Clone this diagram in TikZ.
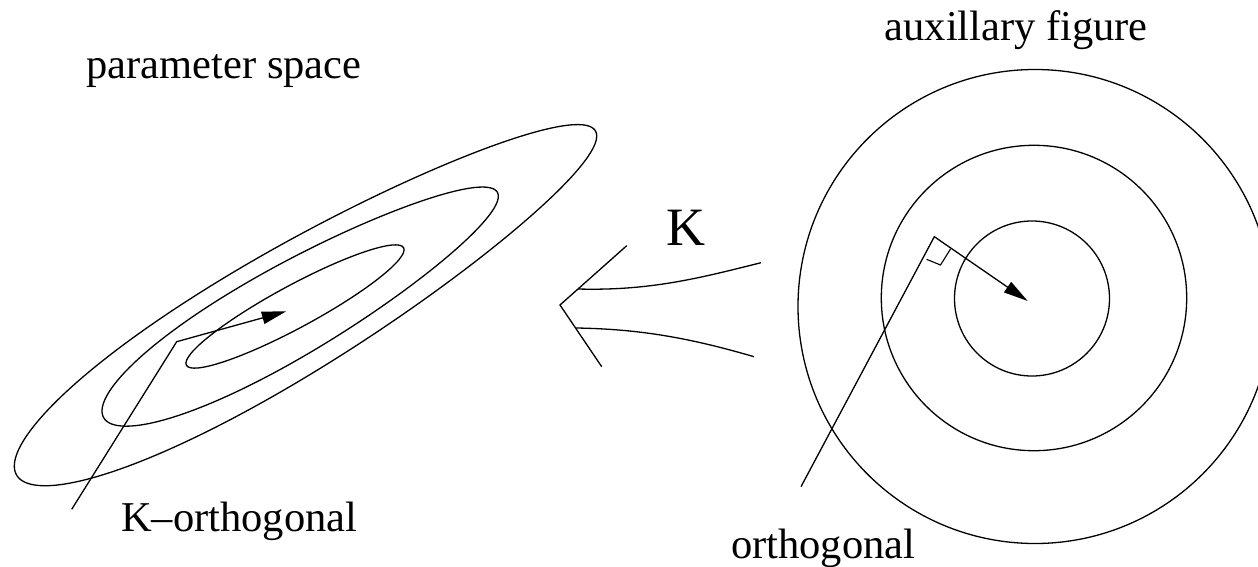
\documentclass[tikz,border=0pt]{standalone}
\usepackage{fontspec}
\setmainfont{Liberation Serif}
\usetikzlibrary{arrows.meta}
\begin{document}
\begin{tikzpicture}[x=1pt,y=-1pt,line width=1.3pt,line join=miter,
  lbl/.style={inner sep=0pt,font=\fontsize{42.5}{42.5}\selectfont},
  arr/.style={-{Triangle[length=24.5pt,width=12.5pt]}}]
\useasboundingbox (0,0) rectangle (1258,567);
% parameter space contours (slightly egg-shaped, wider at the lower left)
\draw plot[domain=0:360,samples=241,variable=\t]
  ({306+336.7*cos(\t)*0.8594+63*(1-0.14*cos(\t))*sin(\t)*0.5113},
   {303-336.7*cos(\t)*0.5113+63*(1-0.14*cos(\t))*sin(\t)*0.8594}) -- cycle;
\draw plot[domain=0:360,samples=241,variable=\t]
  ({300.5+226.8*cos(\t)*0.8678+45.7*(1-0.13*cos(\t))*sin(\t)*0.4970},
   {305-226.8*cos(\t)*0.4970+45.7*(1-0.13*cos(\t))*sin(\t)*0.8678}) -- cycle;
\draw[rotate around={28.4:(295,306.5)}] (295,306.5) ellipse [x radius=123.5pt,y radius=21.2pt];
% K-orthogonal direction
\coordinate (kb) at (71.7,509.3);
\coordinate (kc) at (176.7,341.7);
\coordinate (kt) at (286.3,311.3);
\draw[arr] (kb) -- (kc) -- (kt);
% auxiliary circles
\draw (1035,306.5) circle [radius=237pt];
\draw (1034,298) circle [radius=152.7pt];
\draw (1032,298.5) circle [radius=77.5pt];
\coordinate (ob) at (801,486.7);
\coordinate (oc) at (934.3,236.7);
\coordinate (ot) at (1027.7,301);
\draw[arr] (ob) -- (oc) -- (ot);
\draw[line width=1.1pt] (926.5,259.3) -- (940.5,265) -- (950.5,249);
% big hollow arrow
\coordinate (ht) at (560,305);
\coordinate (hu) at (626.7,245.7);
\coordinate (hl) at (601.7,366.7);
\draw (hu) -- (ht) -- (hl);
\coordinate (su0) at (578,289);
\coordinate (su1) at (761,262.7);
\coordinate (sl0) at (576,328);
\coordinate (sl1) at (754,356.7);
\draw (su0) .. controls (650,291) and (700,278) .. (su1);
\draw (sl0) .. controls (640,329) and (690,338) .. (sl1);
% labels
\node[lbl,anchor=base west] (ps) at (86,78.3) {parameter space};
\node[lbl,anchor=base west] (af) at (884,40.7) {auxillary figure};
\node[lbl,anchor=base west] (ko) at (120.5,531) {K–orthogonal};
\node[lbl,anchor=base east] (or) at (916,558) {orthogonal};
\node[inner sep=0pt,font=\fontsize{54}{54}\selectfont,anchor=base west] (k) at (666,245) {K};
\end{tikzpicture}
\end{document}
